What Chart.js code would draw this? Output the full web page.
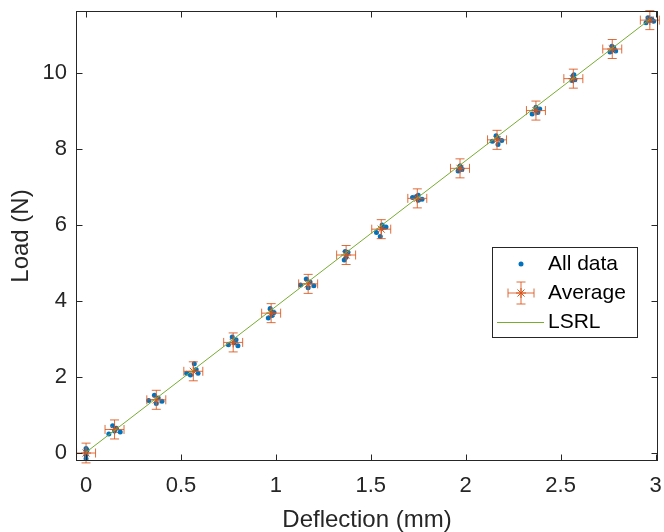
<!DOCTYPE html>
<html>
<head>
<meta charset="utf-8">
<script src="https://cdn.jsdelivr.net/npm/chart.js@4"></script>
<style>
  html, body { margin: 0; padding: 0; background: #fff; }
</style>
</head>
<body>
<canvas id="chart" width="664" height="532"></canvas>
<script>
// individual measurements (All data)
const allX = [
  0, 0, 0, 0.005, 0,
  0.12, 0.14, 0.15, 0.16, 0.18,
  0.33, 0.36, 0.37, 0.38, 0.40,
  0.53, 0.55, 0.57, 0.58, 0.59,
  0.75, 0.77, 0.78, 0.79, 0.80,
  0.96, 0.97, 0.98, 0.98, 0.99,
  1.13, 1.16, 1.17, 1.18, 1.20,
  1.36, 1.365, 1.37, 1.375, 1.38,
  1.53, 1.55, 1.56, 1.56, 1.58,
  1.72, 1.74, 1.75, 1.75, 1.77,
  1.96, 1.97, 1.97, 1.975, 1.98,
  2.14, 2.16, 2.17, 2.17, 2.19,
  2.35, 2.37, 2.37, 2.38, 2.39,
  2.56, 2.565, 2.57, 2.57, 2.575,
  2.76, 2.77, 2.78, 2.78, 2.79,
  2.95, 2.96, 2.97, 2.98, 2.99
];
const allY = [
  -0.15, -0.05, 0.03, 0.08, 0.12,
  0.50, 0.72, 0.58, 0.65, 0.55,
  1.38, 1.52, 1.30, 1.45, 1.36,
  2.10, 2.05, 2.35, 2.20, 2.10,
  2.85, 3.05, 2.90, 2.98, 2.82,
  3.55, 3.80, 3.62, 3.72, 3.70,
  4.42, 4.58, 4.35, 4.50, 4.40,
  5.08, 5.30, 5.15, 5.25, 5.28,
  5.80, 5.70, 6.00, 5.92, 5.95,
  6.72, 6.75, 6.65, 6.78, 6.68,
  7.42, 7.55, 7.48, 7.52, 7.46,
  8.20, 8.35, 8.12, 8.28, 8.22,
  8.92, 9.10, 9.02, 8.96, 9.05,
  9.80, 9.92, 9.85, 9.95, 9.82,
  10.55, 10.70, 10.62, 10.66, 10.58,
  11.32, 11.45, 11.38, 11.42, 11.36
];

// averages and their spread
const avgX = [0, 0.15, 0.37, 0.565, 0.775, 0.975, 1.17, 1.37, 1.555, 1.745, 1.97, 2.165, 2.37, 2.567, 2.772, 2.97];
const avgY = [0.0, 0.62, 1.40, 2.15, 2.91, 3.68, 4.45, 5.21, 5.89, 6.70, 7.49, 8.24, 9.01, 9.85, 10.63, 11.39];
const xErr = [0.05, 0.05, 0.05, 0.05, 0.05, 0.05, 0.05, 0.05, 0.05, 0.05, 0.05, 0.05, 0.05, 0.05, 0.05, 0.05];
const yErr = [0.26, 0.25, 0.25, 0.25, 0.25, 0.25, 0.25, 0.25, 0.25, 0.25, 0.25, 0.25, 0.25, 0.25, 0.25, 0.25];

// least squares line ends
const lsrlX = [0, 2.97];
const lsrlY = [0.02, 11.41];

const legendLabels = ['All data', 'Average', 'LSRL'];

const FONT = "'Liberation Sans', Arial, Helvetica, sans-serif";
const AXIS = '#262626';
const BLUE = '#0072BD';
const ORANGE = '#D95319';
const GREEN = '#77AC30';
const CAP = 4.5;

function drawErrorBar(ctx, px, py, x0, x1, y0, y1) {
  ctx.beginPath();
  ctx.moveTo(x0, py); ctx.lineTo(x1, py);
  ctx.moveTo(x0, py - CAP); ctx.lineTo(x0, py + CAP);
  ctx.moveTo(x1, py - CAP); ctx.lineTo(x1, py + CAP);
  ctx.moveTo(px, y0); ctx.lineTo(px, y1);
  ctx.moveTo(px - CAP, y0); ctx.lineTo(px + CAP, y0);
  ctx.moveTo(px - CAP, y1); ctx.lineTo(px + CAP, y1);
  ctx.stroke();
}

function drawStar(ctx, px, py, r) {
  const d = r * Math.SQRT1_2;
  ctx.beginPath();
  ctx.moveTo(px - r, py); ctx.lineTo(px + r, py);
  ctx.moveTo(px, py - r); ctx.lineTo(px, py + r);
  ctx.moveTo(px - d, py - d); ctx.lineTo(px + d, py + d);
  ctx.moveTo(px - d, py + d); ctx.lineTo(px + d, py - d);
  ctx.stroke();
}

const errorBars = {
  id: 'errorBars',
  beforeDatasetDraw(chart, args) {
    if (args.index !== 1) return;
    const { ctx, scales: { x, y } } = chart;
    ctx.save();
    ctx.strokeStyle = 'rgba(217,83,25,0.85)';
    ctx.lineWidth = 1;
    avgX.forEach((vx, i) => {
      const px = x.getPixelForValue(vx);
      const py = y.getPixelForValue(avgY[i]);
      drawErrorBar(ctx, px, py,
        x.getPixelForValue(vx - xErr[i]), x.getPixelForValue(vx + xErr[i]),
        y.getPixelForValue(avgY[i] - yErr[i]), y.getPixelForValue(avgY[i] + yErr[i]));
    });
    ctx.restore();
  }
};

const frame = {
  id: 'frame',
  afterDatasetsDraw(chart) {
    const { ctx, chartArea: a, scales: { x, y } } = chart;
    const L = Math.round(a.left) + 0.5, R = Math.round(a.right) - 0.5;
    const T = Math.round(a.top) + 0.5, B = Math.round(a.bottom) - 0.5;
    ctx.save();
    ctx.strokeStyle = AXIS;
    ctx.lineWidth = 1;
    ctx.strokeRect(L, T, R - L, B - T);
    ctx.beginPath();
    x.ticks.forEach(t => {
      const px = Math.round(x.getPixelForValue(t.value)) + 0.5;
      ctx.moveTo(px, B); ctx.lineTo(px, B - 6);
      ctx.moveTo(px, T); ctx.lineTo(px, T + 6);
    });
    y.ticks.forEach(t => {
      const py = Math.round(y.getPixelForValue(t.value)) + 0.5;
      ctx.moveTo(L, py); ctx.lineTo(L + 6, py);
      ctx.moveTo(R, py); ctx.lineTo(R - 6, py);
    });
    ctx.stroke();
    ctx.restore();
  }
};

const legendBox = {
  id: 'legendBox',
  afterDraw(chart) {
    const ctx = chart.ctx;
    const bx = 492, by = 247, bw = 145, bh = 90;
    const rows = [264, 293, 322];
    ctx.save();
    ctx.fillStyle = '#fff';
    ctx.fillRect(bx, by, bw, bh);
    ctx.strokeStyle = AXIS;
    ctx.lineWidth = 1;
    ctx.strokeRect(bx + 0.5, by + 0.5, bw, bh);

    // All data
    ctx.fillStyle = BLUE;
    ctx.beginPath();
    ctx.arc(521, rows[0], 2.5, 0, Math.PI * 2);
    ctx.fill();

    // Average
    ctx.strokeStyle = 'rgba(217,83,25,0.85)';
    drawErrorBar(ctx, 521, rows[1], 508, 534, rows[1] - 11, rows[1] + 11);
    ctx.strokeStyle = ORANGE;
    drawStar(ctx, 521, rows[1], 5);

    // LSRL
    ctx.strokeStyle = GREEN;
    ctx.beginPath();
    ctx.moveTo(497, rows[2] + 0.5); ctx.lineTo(544, rows[2] + 0.5);
    ctx.stroke();

    ctx.fillStyle = '#000';
    ctx.font = '21px ' + FONT;
    ctx.textBaseline = 'middle';
    ctx.textAlign = 'left';
    legendLabels.forEach((t, i) => ctx.fillText(t, 548, rows[i]));
    ctx.restore();
  }
};

new Chart(document.getElementById('chart'), {
  type: 'scatter',
  data: {
    datasets: [
      {
        label: legendLabels[2],
        data: lsrlX.map((v, i) => ({ x: v, y: lsrlY[i] })),
        showLine: true,
        borderColor: GREEN,
        borderWidth: 1,
        pointRadius: 0
      },
      {
        label: legendLabels[1],
        data: avgX.map((v, i) => ({ x: v, y: avgY[i] })),
        pointStyle: 'star',
        pointRadius: 5,
        borderColor: ORANGE,
        backgroundColor: ORANGE,
        borderWidth: 1
      },
      {
        label: legendLabels[0],
        data: allX.map((v, i) => ({ x: v, y: allY[i] })),
        pointStyle: 'circle',
        pointRadius: 2.5,
        backgroundColor: BLUE,
        borderWidth: 0
      }
    ]
  },
  options: {
    responsive: false,
    animation: false,
    layout: { padding: { left: 0, right: 4, top: 11, bottom: 0 } },
    plugins: { legend: { display: false }, tooltip: { enabled: false } },
    scales: {
      x: {
        type: 'linear',
        min: -0.053,
        max: 3.013,
        grid: { display: false, drawTicks: false },
        border: { display: false },
        ticks: {
          stepSize: 0.5, includeBounds: false, autoSkip: false, maxRotation: 0,
          color: AXIS, padding: 12, font: { family: FONT, size: 22 },
          callback: v => String(Math.round(v * 10) / 10)
        },
        title: {
          display: true, text: 'Deflection (mm)', color: AXIS,
          font: { family: FONT, size: 24 }, padding: { top: 0, bottom: -3 }
        },
        afterFit: s => { s.height = 71; s.paddingLeft = 0; s.paddingRight = 0; }
      },
      y: {
        min: -0.21,
        max: 11.63,
        grid: { display: false, drawTicks: false },
        border: { display: false },
        ticks: {
          stepSize: 2, includeBounds: false, autoSkip: false,
          color: AXIS, padding: 9, font: { family: FONT, size: 22 }
        },
        title: {
          display: true, text: 'Load (N)', color: AXIS,
          font: { family: FONT, size: 24 }, padding: { top: 7, bottom: 0 }
        },
        afterFit: s => { s.width = 76; s.paddingTop = 0; s.paddingBottom = 0; }
      }
    }
  },
  plugins: [errorBars, frame, legendBox]
});
</script>
</body>
</html>
